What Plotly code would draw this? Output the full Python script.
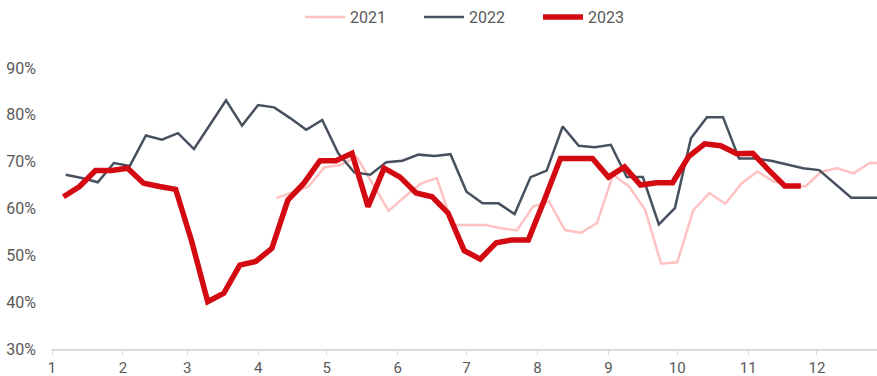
import pandas as pd
import plotly.graph_objects as go

# Weekly observations (Fridays), plotted on a common Jan–Dec calendar
start_2021 = "2023-04-09"
start_2022 = "2023-01-07"
start_2023 = "2023-01-06"

values_2021 = [62.2, 63.4, 64.7, 68.8, 69.3, 71.1, 65.4, 59.5, 62.5, 65.3,
               66.5, 56.5, 56.5, 56.5, 55.8, 55.3, 60.4, 61.5, 55.4, 54.8,
               56.9, 67.2, 64.7, 59.7, 48.2, 48.5, 59.6, 63.3, 61.0, 65.3,
               67.9, 65.8, 65.0, 64.7, 67.9, 68.6, 67.5, 69.7, 69.7]

values_2022 = [67.2, 66.5, 65.6, 69.7, 69.1, 75.6, 74.7, 76.1, 72.7, 77.8,
               83.1, 77.7, 82.1, 81.6, 79.3, 76.8, 78.9, 71.8, 67.7, 67.2,
               69.9, 70.2, 71.5, 71.2, 71.6, 63.6, 61.1, 61.1, 58.8, 66.7,
               68.1, 77.5, 73.4, 73.1, 73.6, 66.7, 66.7, 56.6, 60.1, 75.0,
               79.5, 79.5, 70.7, 70.7, 70.2, 69.4, 68.6, 68.2, 65.2, 62.3,
               62.3, 62.3]

values_2023 = [62.5, 64.7, 68.1, 68.1, 68.6, 65.4, 64.7, 64.1, 53.0, 40.1,
               41.9, 47.9, 48.7, 51.5, 61.8, 65.4, 70.2, 70.2, 71.8, 60.4,
               68.6, 66.7, 63.3, 62.5, 59.0, 51.0, 49.2, 52.7, 53.3, 53.3,
               61.8, 70.7, 70.7, 70.7, 66.7, 68.9, 65.0, 65.5, 65.5, 71.1,
               73.8, 73.4, 71.7, 71.8, 68.2, 64.8, 64.8]

month_ticks = pd.date_range("2023-01-01", periods=12, freq="MS")
month_labels = [str(m) for m in range(1, 13)]
y_ticks = [30, 40, 50, 60, 70, 80, 90]
y_labels = [f"{v}%" for v in y_ticks]

x_2021 = pd.date_range(start_2021, periods=len(values_2021), freq="7D")
x_2022 = pd.date_range(start_2022, periods=len(values_2022), freq="7D")
x_2023 = pd.date_range(start_2023, periods=len(values_2023), freq="7D")

fig = go.Figure()
fig.add_trace(go.Scatter(x=x_2021, y=values_2021, mode="lines", name="2021",
                         line=dict(color="#FFC2C2", width=2.5)))
fig.add_trace(go.Scatter(x=x_2022, y=values_2022, mode="lines", name="2022",
                         line=dict(color="#46505E", width=2.5)))
fig.add_trace(go.Scatter(x=x_2023, y=values_2023, mode="lines", name="2023",
                         line=dict(color="#D40A12", width=5.5)))

font_family = "Roboto, Arial, sans-serif"
fig.update_layout(
    width=877, height=376,
    margin=dict(l=52, r=0, t=68, b=27, autoexpand=False),
    paper_bgcolor="white", plot_bgcolor="white",
    font=dict(family=font_family, size=16, color="#595959"),
    legend=dict(orientation="h", x=(300 - 52) / 825, xanchor="left",
                y=1.0, yanchor="top", yref="container",
                font=dict(size=16, color="#595959"),
                traceorder="normal", itemwidth=40,
                entrywidth=64, entrywidthmode="pixels"),
    showlegend=True,
)
fig.update_xaxes(
    type="date",
    range=["2023-01-01", "2023-12-27 06:00"],
    tickvals=month_ticks, ticktext=month_labels,
    showgrid=False, zeroline=False, automargin=False,
    showline=True, linecolor="#D9D9D9", linewidth=1.5,
    ticks="outside", ticklen=4, tickcolor="#D9D9D9", tickwidth=1,
    tickfont=dict(size=15, color="#595959"),
)
fig.update_yaxes(
    range=[30, 90],
    tickvals=y_ticks, ticktext=y_labels,
    showgrid=False, zeroline=False, showline=False, automargin=False,
    ticks="", ticklabelstandoff=15,
    tickfont=dict(size=16, color="#595959"),
)

fig.write_html("out.html", config={"displayModeBar": False},
               post_script="document.body.style.margin='0';")
